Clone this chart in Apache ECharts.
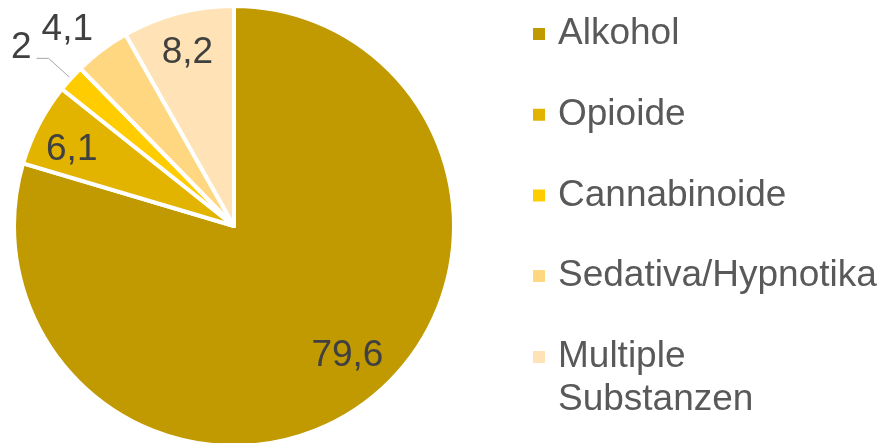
<!DOCTYPE html>
<html>
<head>
<meta charset="utf-8">
<script src="https://cdn.jsdelivr.net/npm/echarts@6/dist/echarts.min.js"></script>
<style>
html,body{margin:0;padding:0;background:#fff;}
#chart{width:882px;height:443px;}
</style>
</head>
<body>
<div id="chart"></div>
<script>
const categories = ['Alkohol', 'Opioide', 'Cannabinoide', 'Sedativa/Hypnotika', 'Multiple Substanzen'];
const values = [79.6, 6.1, 2, 4.1, 8.2];
const colors = ['#C09A00', '#E2B400', '#FFCC00', '#FFD780', '#FFE3B6'];

const FONT = '"Liberation Sans", Arial, sans-serif';
const fmt = v => String(v).replace('.', ',');
const CENTER = [234, 226];
const R = 220;

const baseData = categories.map((c, i) => ({ name: c, value: values[i] }));

const mainData = baseData.map((d, i) => ({
  name: d.name, value: d.value,
  itemStyle: { color: colors[i] },
  label: { show: i === 2 }
}));
const insideIdx = [0, 1, 4];
const insideData = baseData.map((d, i) => ({
  name: d.name, value: d.value,
  label: { show: insideIdx.indexOf(i) >= 0 }
}));
const outerIdx = [3];
const outerData = baseData.map((d, i) => ({
  name: d.name, value: d.value,
  label: { show: outerIdx.indexOf(i) >= 0 }
}));

const labelStyle = {
  fontFamily: FONT, fontSize: 37, color: '#404040',
  formatter: p => fmt(p.value)
};
const insideNudge = { 0: { dx: 4, dy: -17 }, 1: { dx: 0, dy: 8 }, 4: { dx: 0, dy: 4 } };

const chart = echarts.init(document.getElementById('chart'), null, { renderer: 'canvas' });
chart.setOption({
  animation: false,
  backgroundColor: '#ffffff',
  legend: [
    {
      orient: 'vertical', left: 531, top: 12.5, padding: 0,
      itemWidth: 14, itemHeight: 14, itemGap: 37.7,
      icon: 'rect',
      data: categories.slice(0, 4),
      textStyle: { fontFamily: FONT, fontSize: 37, color: '#595959', lineHeight: 43, padding: [0, 0, 0, 7] }
    },
    {
      orient: 'vertical', left: 531, top: 292.5, padding: 0,
      itemWidth: 14, itemHeight: 14,
      icon: 'rect',
      data: categories.slice(4),
      formatter: n => ' \n' + n.replace(' ', '\n'),
      textStyle: { fontFamily: FONT, fontSize: 37, color: '#595959', lineHeight: 43, padding: [0, 0, 0, 7] }
    }
  ],
  series: [
    {
      type: 'pie', center: CENTER, radius: R,
      startAngle: 90, clockwise: true,
      avoidLabelOverlap: false,
      itemStyle: { borderColor: '#ffffff', borderWidth: 4 },
      emphasis: { disabled: true },
      label: Object.assign({}, labelStyle, {
        position: 'outside', distanceToLabelLine: 5,
        formatter: p => '{a|' + fmt(p.value) + '}\n{b| }',
        rich: {
          a: { fontFamily: FONT, fontSize: 37, color: '#404040', lineHeight: 37 },
          b: { fontSize: 10, lineHeight: 22 }
        }
      }),
      labelLine: { show: true, length: 30, length2: 12, smooth: false, lineStyle: { color: '#A6A6A6', width: 1 } },
      data: mainData
    },
    {
      type: 'pie', center: CENTER, radius: [140, R],
      startAngle: 90, clockwise: true, silent: true,
      avoidLabelOverlap: false,
      itemStyle: { color: 'rgba(0,0,0,0)', borderWidth: 0 },
      emphasis: { disabled: true },
      label: Object.assign({}, labelStyle, { position: 'inside' }),
      labelLine: { show: false },
      labelLayout: p => insideNudge[p.dataIndex] || {},
      data: insideData
    },
    {
      type: 'pie', center: CENTER, radius: [R, 296],
      startAngle: 90, clockwise: true, silent: true,
      avoidLabelOverlap: false,
      itemStyle: { color: 'rgba(0,0,0,0)', borderWidth: 0 },
      emphasis: { disabled: true },
      label: Object.assign({}, labelStyle, { position: 'inside' }),
      labelLine: { show: false },
      labelLayout: p => ({ dx: -10, dy: 13 }),
      data: outerData
    }
  ]
});
</script>
</body>
</html>
